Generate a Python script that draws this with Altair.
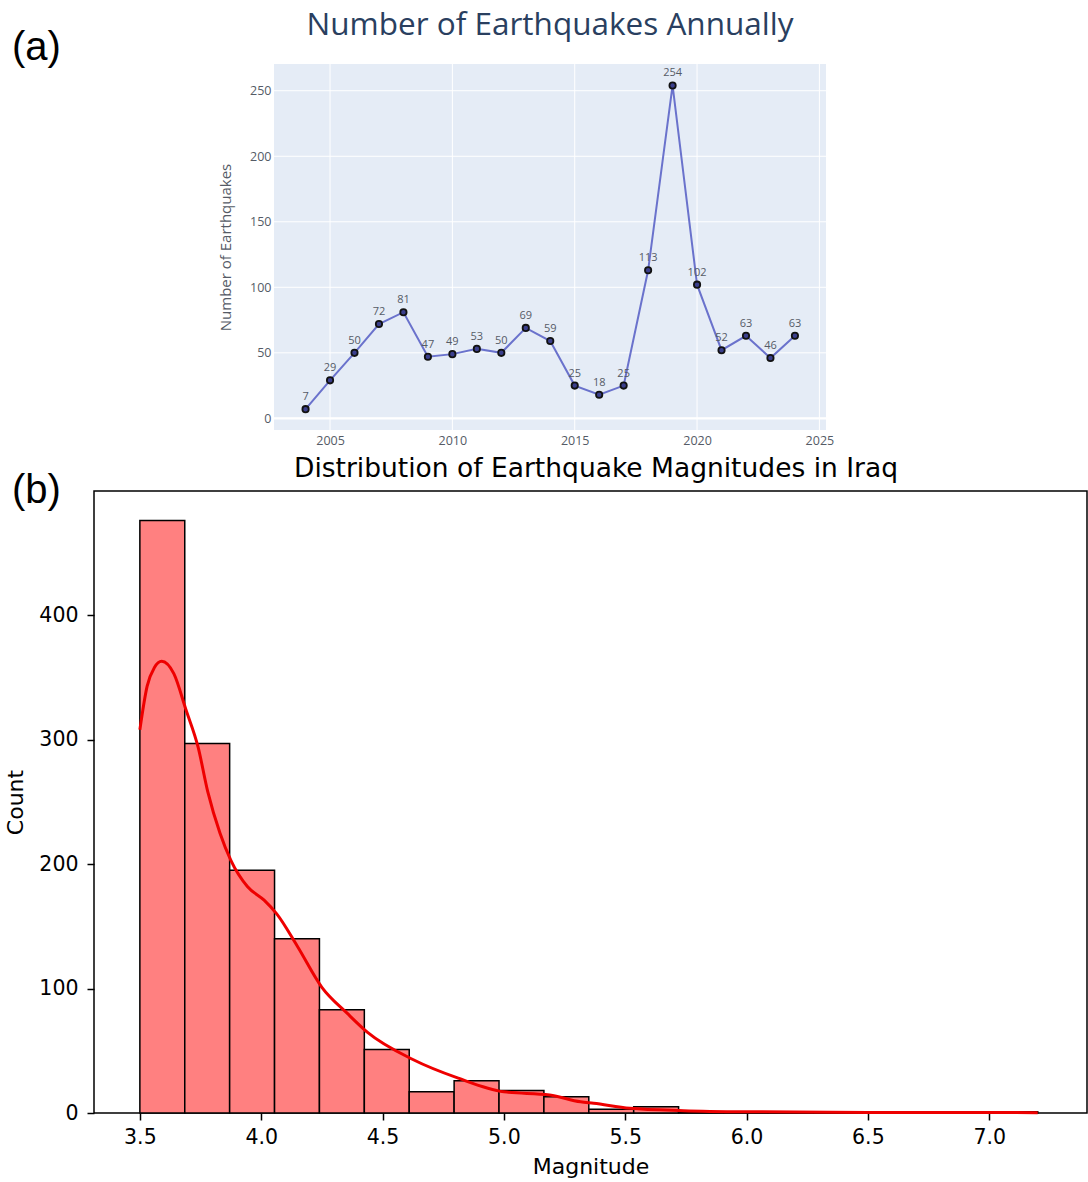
import altair as alt
import pandas as pd

# ---------------- data: panel (a) ----------------
years = [2004, 2005, 2006, 2007, 2008, 2009, 2010, 2011, 2012, 2013, 2014,
         2015, 2016, 2017, 2018, 2019, 2020, 2021, 2022, 2023, 2024]
quake_counts = [7, 29, 50, 72, 81, 47, 49, 53, 50, 69, 59,
                25, 18, 25, 113, 254, 102, 52, 63, 46, 63]
year_ticks = [2005, 2010, 2015, 2020, 2025]
count_ticks = [0, 50, 100, 150, 200, 250]

# ---------------- data: panel (b) ----------------
bin_edges = [3.5, 3.685, 3.87, 4.055, 4.24, 4.425, 4.61, 4.795, 4.98, 5.165,
             5.35, 5.535, 5.72, 5.905, 6.09, 6.275, 6.46, 6.645, 6.83, 7.015, 7.2]
bin_counts = [476, 297, 195, 140, 83, 51, 17, 26, 18, 13,
              3, 5, 1, 0, 1, 0, 0, 0, 0, 1]
kde_x = [3.50, 3.53, 3.56, 3.59, 3.64, 3.69, 3.74, 3.78, 3.83, 3.875, 3.943,
         4.012, 4.064, 4.149, 4.25, 4.355, 4.437, 4.625, 4.812, 5.0, 5.189,
         5.316, 5.37, 5.52, 5.74, 6.0, 6.5, 7.0, 7.2]
kde_y = [308, 343, 358, 363, 353, 324, 294, 258, 225, 203, 182,
         171, 160, 134, 101, 80, 65, 43, 28, 17, 14.5,
         9, 7.8, 3.8, 1.9, 1.0, 0.5, 0.4, 0.3]
mag_ticks = [3.5, 4.0, 4.5, 5.0, 5.5, 6.0, 6.5, 7.0]
hist_ticks = [0, 100, 200, 300, 400]

# ---------------- tables ----------------
df_a = pd.DataFrame({"year": years, "count": quake_counts})
df_xgrid = pd.DataFrame({"year": year_ticks})
df_ygrid = pd.DataFrame({"count": count_ticks})
df_bins = pd.DataFrame({"lo": bin_edges[:-1], "hi": bin_edges[1:], "n": bin_counts})
df_kde = pd.DataFrame({"mag": kde_x, "dens": kde_y})
one = pd.DataFrame({"k": [0]})

W = 993            # shared view width of both panels (origins align in the column)
TH, BH = 366, 622
A_LEFT, A_RIGHT = 180, 732   # panel (a) plot area inside its view

# ---------------- panel (a) ----------------
PF = "Open Sans"
GREY = "#555b66"
xsa = alt.Scale(domain=[2002.71, 2025.27], range=[A_LEFT, A_RIGHT], nice=False, zero=False)
ysa = alt.Scale(domain=[-8.9, 270.4], nice=False, zero=False)
x_a = alt.X("year:Q", scale=xsa,
            axis=alt.Axis(values=year_ticks, format="d", title=None, grid=False,
                          domain=False, ticks=False, labelFont=PF, labelFontSize=12.5,
                          labelColor=GREY, labelPadding=4, labelFlush=False))
y_a = alt.Y("count:Q", scale=ysa,
            axis=alt.Axis(values=count_ticks, title="Number of Earthquakes", grid=False,
                          domain=False, ticks=False, offset=-A_LEFT,
                          labelFont=PF, labelFontSize=12.5, labelColor=GREY, labelPadding=3,
                          titleFont=PF, titleFontSize=15, titleFontWeight="normal",
                          titleColor=GREY, titlePadding=16))

bg_a = alt.Chart(one).mark_rect(fill="#e5ecf6").encode(
    x=alt.value(A_LEFT), x2=alt.value(A_RIGHT), y=alt.value(0), y2=alt.value(TH))
vgrid = alt.Chart(df_xgrid).mark_rule(color="white", strokeWidth=1).encode(
    x=alt.X("year:Q", scale=xsa), y=alt.value(0), y2=alt.value(TH))
hgrid = alt.Chart(df_ygrid).mark_rule(color="white", strokeWidth=1).encode(
    y=alt.Y("count:Q", scale=ysa), x=alt.value(A_LEFT), x2=alt.value(A_RIGHT))
zero_line = alt.Chart(one).mark_rule(color="white", strokeWidth=2.2).encode(
    y=alt.Y("k:Q", scale=ysa), x=alt.value(A_LEFT), x2=alt.value(A_RIGHT))
line_a = alt.Chart(df_a).mark_line(color="#6a72cc", strokeWidth=2).encode(x=x_a, y=y_a)
pts_a = alt.Chart(df_a).mark_point(filled=True, shape="circle", size=40, fill="#3b3f8c",
                                   stroke="#111111", strokeWidth=1.8, opacity=1).encode(
    x=alt.X("year:Q", scale=xsa), y=alt.Y("count:Q", scale=ysa))
lbl_a = alt.Chart(df_a).mark_text(dy=-12, font=PF, fontSize=11, color=GREY).encode(
    x=alt.X("year:Q", scale=xsa), y=alt.Y("count:Q", scale=ysa),
    text=alt.Text("count:Q", format="d"))
title_a = alt.Chart(pd.DataFrame({"t": ["Number of Earthquakes Annually"]})).mark_text(
    font=PF, fontSize=31.5, color="#2a3f5f", align="center", baseline="alphabetic").encode(
    x=alt.value(456), y=alt.value(-29), text="t:N")
tag_a = alt.Chart(pd.DataFrame({"t": ["(a)"]})).mark_text(
    font="Liberation Sans", fontSize=40, color="black", align="left", baseline="middle").encode(
    x=alt.value(-82), y=alt.value(-16), text="t:N")
guide_a = alt.Chart(one).mark_rule(opacity=0, strokeWidth=1).encode(
    x=alt.value(-93), x2=alt.value(-93), y=alt.value(-63), y2=alt.value(450 - 64))

chart_a = alt.layer(bg_a, vgrid, hgrid, zero_line, line_a, pts_a, lbl_a,
                    title_a, tag_a, guide_a).properties(
    width=W, height=TH,
    view=alt.ViewBackground(fill="transparent", stroke="transparent"),
)

# ---------------- panel (b) ----------------
MF = "DejaVu Sans"
xs = alt.Scale(domain=[3.311, 7.403], nice=False, zero=False)
ys = alt.Scale(domain=[0, 499.8], nice=False, zero=False)
x_axis_b = alt.Axis(values=mag_ticks, format=".1f", title="Magnitude", grid=False,
                    domain=False, ticks=True, tickColor="black", tickWidth=1.5, tickSize=7,
                    labelFont=MF, labelFontSize=20.5, labelColor="black", labelPadding=7,
                    labelFlush=False, titleFont=MF, titleFontSize=22,
                    titleFontWeight="normal", titleColor="black", titlePadding=9)
y_axis_b = alt.Axis(values=hist_ticks, format="d", title="Count", grid=False,
                    domain=False, ticks=True, tickColor="black", tickWidth=1.5, tickSize=7,
                    labelFont=MF, labelFontSize=20.5, labelColor="black", labelPadding=9,
                    titleFont=MF, titleFontSize=22, titleFontWeight="normal",
                    titleColor="black", titlePadding=11)

bars = alt.Chart(df_bins).mark_rect(fill="#ff8080", stroke="black", strokeWidth=1.5).encode(
    x=alt.X("lo:Q", scale=xs, axis=x_axis_b), x2="hi:Q",
    y=alt.Y("n:Q", scale=ys, axis=y_axis_b), y2=alt.datum(0))
kde = alt.Chart(df_kde).mark_line(color="#ee0000", strokeWidth=3, interpolate="monotone").encode(
    x=alt.X("mag:Q", scale=xs), y=alt.Y("dens:Q", scale=ys))
title_b = alt.Chart(pd.DataFrame({"t": ["Distribution of Earthquake Magnitudes in Iraq"]})).mark_text(
    font=MF, fontSize=26.5, color="black", align="center", baseline="alphabetic").encode(
    x=alt.value(502), y=alt.value(-14), text="t:N")
tag_b = alt.Chart(pd.DataFrame({"t": ["(b)"]})).mark_text(
    font="Liberation Sans", fontSize=40, color="black", align="left", baseline="middle").encode(
    x=alt.value(-82), y=alt.value(0), text="t:N")
guide_b = alt.Chart(one).mark_rule(opacity=0, strokeWidth=1).encode(
    x=alt.value(-93), x2=alt.value(-93), y=alt.value(452 - 491), y2=alt.value(0))

chart_b = alt.layer(bars, kde, title_b, tag_b, guide_b).properties(
    width=W, height=BH,
    view=alt.ViewBackground(fill="white", stroke="black", strokeWidth=1.5),
)

chart = alt.vconcat(chart_a, chart_b, spacing=0).properties(
    padding={"left": 0, "top": 0, "right": 0, "bottom": 0},
    background="white",
)

chart.save("out.html", embed_options={"renderer": "svg", "actions": False})
